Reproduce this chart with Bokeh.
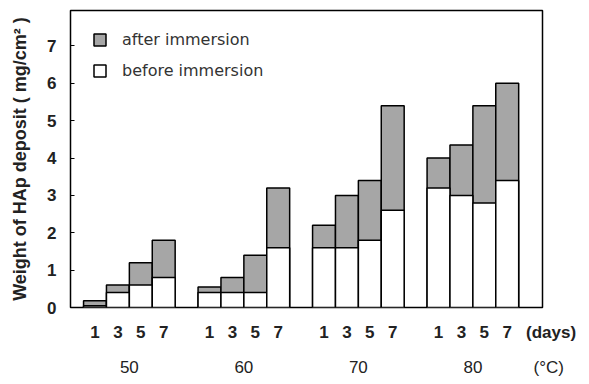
from bokeh.plotting import figure
from bokeh.models import (Range1d, FixedTicker, LinearAxis, Legend,
                          LegendItem, ColumnDataSource)
from bokeh.embed import file_html
from bokeh.resources import INLINE

temps = ["50", "60", "70", "80"]
days = ["1", "3", "5", "7"]
before = [0.05, 0.4, 0.6, 0.8,
          0.4, 0.4, 0.4, 1.6,
          1.6, 1.6, 1.8, 2.6,
          3.2, 3.0, 2.8, 3.4]
after = [0.18, 0.6, 1.2, 1.8,
         0.55, 0.8, 1.4, 3.2,
         2.2, 3.0, 3.4, 5.4,
         4.0, 4.35, 5.4, 6.0]
y_ticks = [0, 1, 2, 3, 4, 5, 6, 7]
day_unit = "(days)"
temp_unit = "(°C)"

xs = [g * 5 + j for g in range(len(temps)) for j in range(len(days))]
day_labels = [d for _ in temps for d in days]
group_centers = [g * 5 + 1.5 for g in range(len(temps))]
X_END = 19.54
unit_tick = 19.5
NB = "\u00a0"

src = ColumnDataSource(dict(x=xs, before=before, after=after))

FONT = "Liberation Sans"
LFONT = "DejaVu Sans"
GRAY = "#a6a6a6"

p = figure(width=589, height=384,
           x_range=Range1d(-1.07, X_END), y_range=Range1d(0, 7.95),
           output_backend="svg", toolbar_location=None,
           min_border_left=70, min_border_right=47,
           min_border_top=10, min_border_bottom=77)
p.grid.visible = False
p.outline_line_color = "black"
p.outline_line_width = 1.5
p.background_fill_color = "white"
p.border_fill_color = "white"

r_after = p.vbar(x="x", top="after", bottom=0, width=1.0, source=src,
                 fill_color=GRAY, line_color="black", line_width=1.5)
r_before = p.vbar(x="x", top="before", bottom=0, width=1.0, source=src,
                  fill_color="white", line_color="black", line_width=1.5)

# y axis
ya = p.yaxis[0]
ya.ticker = FixedTicker(ticks=y_ticks)
ya.major_tick_in = 4
ya.major_tick_out = 0
ya.minor_tick_line_color = None
ya.axis_line_color = None
ya.major_label_text_font = FONT
ya.major_label_text_font_size = "17px"
ya.major_label_text_font_style = "bold"
ya.major_label_text_color = "#222222"
ya.major_label_standoff = 14
ya.axis_label = "Weight of HAp deposit ( mg/cm² )"
ya.axis_label_text_font = FONT
ya.axis_label_text_font_size = "18px"
ya.axis_label_text_font_style = "bold"
ya.axis_label_text_color = "#222222"
ya.axis_label_standoff = 14

# x axis (days)
xa = p.xaxis[0]
xa.ticker = FixedTicker(ticks=xs + [unit_tick])
ov = {x: d for x, d in zip(xs, day_labels)}
ov[unit_tick] = NB * 4 + day_unit
xa.major_label_overrides = ov
xa.major_tick_line_color = None
xa.minor_tick_line_color = None
xa.axis_line_color = None
xa.major_label_text_font = FONT
xa.major_label_text_font_size = "17px"
xa.major_label_text_font_style = "bold"
xa.major_label_text_color = "#222222"
xa.major_label_standoff = 9

# second x axis (temperatures)
tov = {x: t for x, t in zip(group_centers, temps)}
tov[unit_tick] = NB * 3 + temp_unit
ta = LinearAxis(ticker=FixedTicker(ticks=group_centers + [unit_tick]),
                major_label_overrides=tov)
ta.major_tick_line_color = None
ta.minor_tick_line_color = None
ta.axis_line_color = None
ta.major_label_text_font = FONT
ta.major_label_text_font_size = "17px"
ta.major_label_text_color = "#222222"
ta.major_label_standoff = 7
p.add_layout(ta, "below")

legend = Legend(items=[LegendItem(label="after immersion", renderers=[r_after]),
                       LegendItem(label="before immersion", renderers=[r_before])],
                location=(22, 227), orientation="vertical",
                glyph_width=15, glyph_height=15, label_height=15,
                spacing=12, padding=0, margin=0, label_standoff=15,
                border_line_color=None, background_fill_alpha=0,
                label_text_font=LFONT, label_text_font_size="16px",
                label_text_color="#333333")
p.add_layout(legend)

open("out.html", "w").write(file_html(p, INLINE))
